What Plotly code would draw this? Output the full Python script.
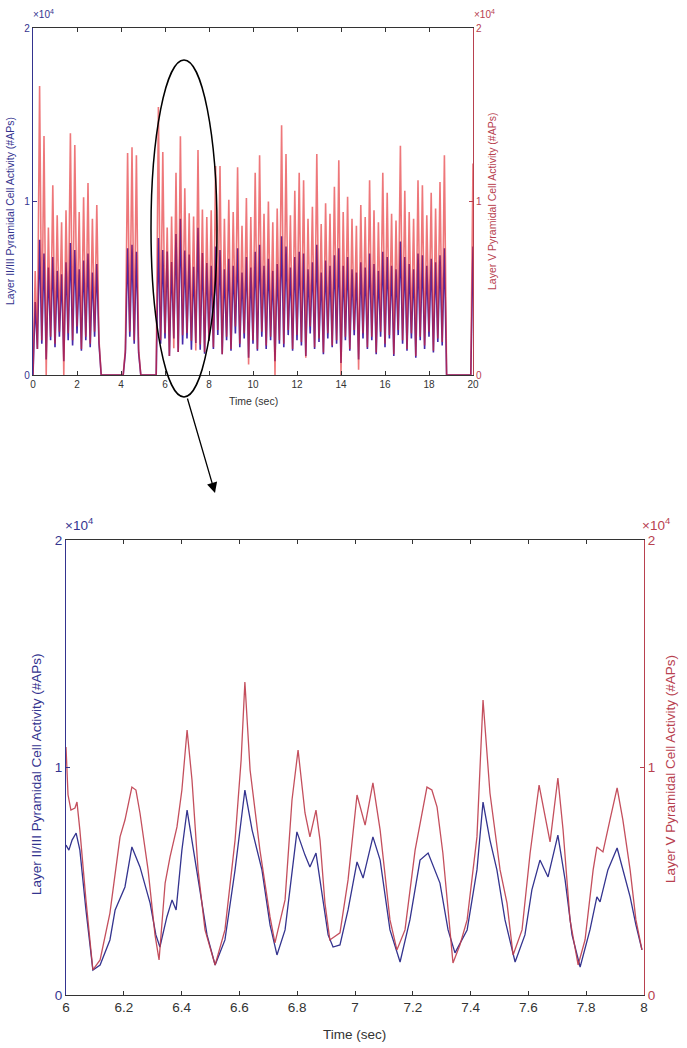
import numpy as np
import plotly.graph_objects as go

W, H = 687, 1048

# ---- overview recording, 0-20 s, sampled every 0.1 s (peaks / troughs)
t_overview = np.round(np.arange(0, 20.05, 0.1), 1)

layer5_overview = [
    0, 6000, 1500, 16650, 2000, 13770, 0, 8500, 2200, 10940,
    1800, 9200, 2500, 8800, 0, 9500, 2400, 13940, 2000, 13250,
    2800, 9400, 1500, 10250, 2200, 11060, 1800, 9000, 2500, 9800,
    2000, 0, 0, 0, 0, 0, 0, 0, 0, 0,
    0, 0, 1500, 12790, 2500, 13130, 2000, 12670, 1500, 0,
    0, 0, 0, 0, 0, 0, 0, 15440, 2000, 12850,
    2400, 8500, 1100, 9140, 1540, 11650, 1320, 13760, 2290, 10770,
    2420, 9320, 1980, 9140, 1410, 12970, 1760, 9540, 1320, 9100,
    1980, 9500, 1600, 12040, 2600, 12040, 1200, 9000, 2200, 10100,
    1500, 9400, 2800, 11980, 1800, 8600, 2400, 10200, 600, 9100,
    2000, 11650, 1500, 12670, 2500, 9300, 1700, 10000, 2200, 8800,
    0, 9600, 2000, 14400, 1800, 12730, 2600, 9200, 1500, 10620,
    2300, 11650, 1900, 11230, 1000, 9000, 2800, 9700, 1600, 12730,
    2100, 8700, 1300, 9900, 2400, 9300, 1700, 10850, 2000, 12380,
    0, 9400, 2200, 10270, 1500, 9000, 2600, 8600, 300, 9800,
    2400, 9100, 1600, 11230, 2200, 9500, 1300, 8800, 2500, 11650,
    1800, 10500, 2300, 9300, 1200, 8900, 2600, 13210, 2000, 10620,
    1500, 9400, 2400, 9000, 1100, 11230, 2200, 10940, 1700, 9200,
    2500, 10500, 1400, 9600, 2100, 11130, 1900, 12670, 0, 0,
    0, 0, 0, 0, 0, 0, 0, 0, 0, 0,
    12190,
]

layer23_overview = [
    0, 4200, 1500, 7800, 1800, 7000, 900, 6200, 2000, 6800,
    1600, 6000, 2200, 5800, 800, 6500, 2000, 7600, 1700, 7200,
    2400, 6100, 1400, 6600, 2000, 7000, 1600, 5900, 2200, 6400,
    1800, 0, 0, 0, 0, 0, 0, 0, 0, 0,
    0, 0, 1300, 7300, 2200, 7500, 1800, 7100, 1300, 0,
    0, 0, 0, 0, 0, 0, 0, 7900, 1800, 7200,
    2100, 7120, 1100, 6510, 2110, 8130, 1320, 9010, 1760, 7170,
    2110, 6950, 1450, 6240, 1850, 8480, 1450, 7030, 1230, 6460,
    1980, 6300, 1500, 7400, 2300, 7200, 1200, 6100, 2000, 6700,
    1400, 6300, 2400, 7300, 1600, 5900, 2100, 6800, 1000, 6200,
    1800, 7100, 1400, 7500, 2200, 6300, 1500, 6700, 2000, 6000,
    800, 6400, 1800, 8000, 1600, 7400, 2300, 6200, 1400, 6800,
    2000, 7100, 1700, 7000, 1100, 6100, 2400, 6500, 1500, 7500,
    1900, 5900, 1200, 6600, 2100, 6300, 1600, 6900, 1800, 7300,
    700, 6300, 2000, 6800, 1400, 6100, 2300, 5900, 900, 6500,
    2100, 6200, 1500, 7000, 2000, 6400, 1200, 6000, 2200, 7100,
    1600, 6800, 2100, 6300, 1100, 6100, 2300, 7700, 1800, 6800,
    1400, 6400, 2100, 6100, 1000, 7000, 2000, 6900, 1500, 6300,
    2200, 6700, 1300, 6500, 1900, 6900, 1700, 7300, 0, 0,
    0, 0, 0, 0, 0, 0, 0, 0, 0, 0,
    7400,
]

# ---- zoomed window, 6-8 s
t_zoom_l5 = [
    6.000, 6.007, 6.017, 6.031, 6.038, 6.048, 6.069, 6.093, 6.118, 6.152,
    6.187, 6.204, 6.228, 6.242, 6.256, 6.284, 6.308, 6.322, 6.343, 6.360,
    6.384, 6.401, 6.419, 6.436, 6.457, 6.481, 6.516, 6.550, 6.585, 6.606,
    6.619, 6.637, 6.671, 6.706, 6.723, 6.758, 6.782, 6.803, 6.827, 6.844,
    6.865, 6.879, 6.896, 6.913, 6.948, 6.976, 7.007, 7.035, 7.062, 7.087,
    7.121, 7.145, 7.173, 7.208, 7.249, 7.266, 7.284, 7.304, 7.339, 7.363,
    7.388, 7.422, 7.443, 7.467, 7.502, 7.526, 7.547, 7.578, 7.606, 7.637,
    7.657, 7.675, 7.702, 7.720, 7.744, 7.772, 7.796, 7.824, 7.837, 7.858,
    7.882, 7.907, 7.927, 7.952, 7.972, 7.993,
]
layer5_zoom = [
    10900, 8800, 8130, 8220, 8480, 7250, 4180, 1100, 1540, 3600,
    6950, 7690, 9140, 9010, 8000, 5500, 2640, 1540, 4920, 6070,
    7390, 9010, 11650, 9450, 5500, 2860, 1320, 2860, 6810, 10330,
    13760, 9890, 6370, 3430, 2290, 4180, 8570, 10770, 8000, 6950,
    8130, 6810, 4040, 2420, 2730, 5060, 8790, 7470, 9320, 7250,
    3300, 1980, 2860, 6370, 9140, 9010, 8260, 6240, 1410, 2200,
    3300, 6950, 12970, 8880, 5500, 4040, 1760, 2860, 6240, 9230,
    7910, 6730, 9540, 7250, 3300, 1320, 2420, 5500, 6510, 6290,
    7690, 9100, 7690, 5500, 3300, 1980,
]

t_zoom_l23 = [
    6.000, 6.010, 6.021, 6.035, 6.048, 6.069, 6.093, 6.118, 6.152, 6.170,
    6.204, 6.228, 6.256, 6.291, 6.311, 6.325, 6.349, 6.367, 6.381, 6.401,
    6.419, 6.436, 6.464, 6.488, 6.516, 6.550, 6.585, 6.619, 6.644, 6.678,
    6.706, 6.730, 6.758, 6.782, 6.799, 6.827, 6.844, 6.865, 6.886, 6.907,
    6.924, 6.948, 6.976, 7.007, 7.028, 7.062, 7.087, 7.121, 7.156, 7.190,
    7.225, 7.253, 7.294, 7.322, 7.346, 7.388, 7.422, 7.443, 7.467, 7.491,
    7.519, 7.554, 7.588, 7.612, 7.640, 7.668, 7.702, 7.727, 7.751, 7.779,
    7.813, 7.837, 7.848, 7.875, 7.907, 7.927, 7.952, 7.972, 7.993,
]
layer23_zoom = [
    6590, 6370, 6810, 7120, 6370, 3740, 1100, 1320, 2420, 3740,
    4750, 6510, 5630, 4040, 2640, 2110, 3430, 4180, 3740, 6370,
    8130, 6810, 4620, 2640, 1320, 2420, 5500, 9010, 7250, 5500,
    3080, 1760, 2860, 5500, 7170, 6150, 5630, 6240, 4400, 2640,
    2110, 2200, 3740, 5850, 5140, 6950, 5930, 2860, 1450, 3300,
    5930, 6240, 4920, 2860, 1850, 2860, 5500, 8480, 6810, 5500,
    3300, 1450, 2640, 4620, 5930, 5190, 7030, 5060, 2640, 1230,
    2860, 4310, 4090, 5500, 6460, 5500, 4310, 3080, 1980,
]

overview_ticks = [0, 2, 4, 6, 8, 10, 12, 14, 16, 18, 20]
zoom_ticks = [6, 6.2, 6.4, 6.6, 6.8, 7, 7.2, 7.4, 7.6, 7.8, 8]
zoom_tick_text = ["6", "6.2", "6.4", "6.6", "6.8", "7", "7.2", "7.4", "7.6", "7.8", "8"]
y_ticks = [0, 10000, 20000]
y_tick_text = ["0", "1", "2"]

BLUE = "#34348f"
RED = "#b8414f"
GRAY = "#333333"
FONT = "Liberation Sans, Arial, sans-serif"


def px(x):
    return x / W


def py(y):
    return 1 - y / H


top_x = [px(33), px(473)]
top_y = [py(375), py(28)]
bot_x = [px(66), px(644)]
bot_y = [py(995), py(540)]

fig = go.Figure()

# overview
fig.add_trace(go.Scatter(x=t_overview, y=layer23_overview, mode="lines",
                         line=dict(color="rgb(70,40,170)", width=1.6),
                         xaxis="x", yaxis="y"))
fig.add_trace(go.Scatter(x=t_overview, y=layer5_overview, mode="lines",
                         line=dict(color="rgba(228,35,40,0.62)", width=1.6),
                         xaxis="x", yaxis="y2"))
# zoom
fig.add_trace(go.Scatter(x=t_zoom_l23, y=layer23_zoom, mode="lines",
                         line=dict(color=BLUE, width=1.3),
                         xaxis="x2", yaxis="y3"))
fig.add_trace(go.Scatter(x=t_zoom_l5, y=layer5_zoom, mode="lines",
                         line=dict(color="rgba(190,60,75,0.9)", width=1.3),
                         xaxis="x2", yaxis="y4"))


def xax(domain, anchor, rng, tickvals, ticktext, size):
    return dict(domain=domain, anchor=anchor, range=rng, tickvals=tickvals,
                ticktext=ticktext, ticks="inside", ticklen=4, tickcolor=GRAY,
                showline=True, linecolor=GRAY, linewidth=1, mirror="ticks",
                showgrid=False, zeroline=False, automargin=False,
                tickfont=dict(family=FONT, size=size, color=GRAY))


def yax(domain, anchor, color, size, side="left", overlaying=None):
    d = dict(domain=domain, anchor=anchor, range=[0, 20000], tickvals=y_ticks,
             ticktext=y_tick_text, ticks="inside", ticklen=4, tickcolor=color,
             showline=True, linecolor=color, linewidth=1.2, showgrid=False,
             zeroline=False, side=side, automargin=False,
             tickfont=dict(family=FONT, size=size, color=color))
    if overlaying:
        d["overlaying"] = overlaying
    return d


fig.update_layout(
    width=W, height=H, autosize=False,
    margin=dict(l=0, r=0, t=0, b=0, pad=0),
    paper_bgcolor="white", plot_bgcolor="white",
    showlegend=False,
    font=dict(family=FONT),
    xaxis=xax(top_x, "y", [0, 20], overview_ticks, [str(v) for v in overview_ticks], 10),
    yaxis=yax(top_y, "x", BLUE, 10),
    yaxis2=yax(top_y, "x", RED, 10, side="right", overlaying="y"),
    xaxis2=xax(bot_x, "y3", [6, 8], zoom_ticks, zoom_tick_text, 13.5),
    yaxis3=yax(bot_y, "x2", BLUE, 13.5),
    yaxis4=yax(bot_y, "x2", RED, 13.5, side="right", overlaying="y3"),
)

ann = []


def label(text, x, y, size, color, angle=0, xanchor="center", yanchor="middle"):
    ann.append(dict(text=text, x=px(x), y=py(y), xref="paper", yref="paper",
                    showarrow=False, textangle=angle, xanchor=xanchor,
                    yanchor=yanchor, font=dict(family=FONT, size=size, color=color)))


title_l23 = "Layer II/III Pyramidal Cell Activity (#APs)"
title_l5 = "Layer V Pyramidal Cell Activity (#APs)"

label(title_l23, 10, 211, 10.5, BLUE, -90)
label(title_l5, 492, 202, 10.5, RED, -90)
label("Time (sec)", 253, 401, 10.5, GRAY)
label("×10<sup>4</sup>", 31, 14, 10, BLUE, xanchor="left")
label("×10<sup>4</sup>", 472, 14, 10, RED, xanchor="left")

label(title_l23, 36, 774, 13.5, BLUE, -90)
label(title_l5, 670, 769, 13.5, RED, -90)
label("Time (sec)", 354, 1034, 13.5, GRAY)
label("×10<sup>4</sup>", 63, 524, 13.5, BLUE, xanchor="left")
label("×10<sup>4</sup>", 640, 524, 13.5, RED, xanchor="left")

# arrow from the circled region down to the zoomed plot
ann.append(dict(text="", x=px(215), y=py(493), xref="paper", yref="paper",
                ax=-28, ay=-96, axref="pixel", ayref="pixel",
                showarrow=True, arrowhead=2, arrowsize=1.6, arrowwidth=1.3,
                arrowcolor="black"))

fig.update_layout(annotations=ann)

# ellipse around the 6-8 s window
fig.add_shape(type="circle", xref="paper", yref="paper",
              x0=px(151), x1=px(217), y0=py(397), y1=py(60),
              line=dict(color="black", width=1.5))

# drop the default page margin so the figure fills the window exactly
fig.write_html("out.html",
               config={"displayModeBar": False},
               post_script="document.body.style.margin='0';"
                           "document.body.style.overflow='hidden';")
